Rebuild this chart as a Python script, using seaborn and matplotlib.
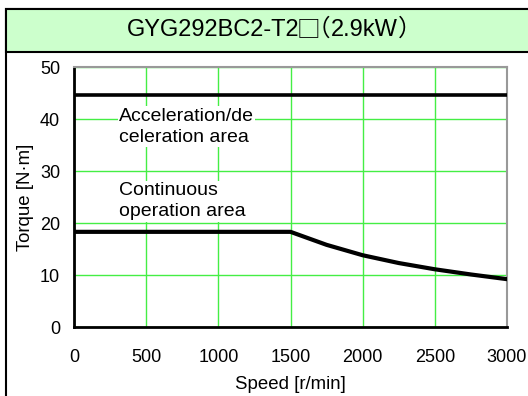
import matplotlib
matplotlib.use('Agg')
import matplotlib.pyplot as plt
import seaborn as sns
import pandas as pd
from matplotlib.patches import Rectangle

# values
speed_cont = [0, 1500, 1750, 2000, 2250, 2500, 2750, 3000]
torque_cont = [18.3, 18.3, 15.8, 13.8, 12.3, 11.1, 10.1, 9.2]
speed_acc = [0, 3000]
torque_acc = [44.6, 44.6]
x_ticks = [0, 500, 1000, 1500, 2000, 2500, 3000]
y_ticks = [0, 10, 20, 30, 40, 50]
title_parts = ['GYG292BC2-T2', '□', '（', '2.9kW', '）']
acc_label = 'Acceleration/de\nceleration area'
cont_label = 'Continuous\noperation area'

sns.set_theme(style='white')
plt.rcParams['font.family'] = ['Liberation Sans', 'Noto Sans CJK JP', 'DejaVu Sans']
plt.rcParams['text.color'] = 'black'
plt.rcParams['axes.labelcolor'] = 'black'

W, H = 528, 396
fig = plt.figure(figsize=(W / 100, H / 100), dpi=100)

# outer frame and title band (pixel coords -> figure fraction)
def px(x, y):
    return x / W, 1 - y / H

fig.patches.append(Rectangle(px(6, 400), (W + 10 - 6) / W, (400 - 9) / H,
                             transform=fig.transFigure, fill=False,
                             edgecolor='black', linewidth=1.5, zorder=0))
fig.patches.append(Rectangle(px(6, 52), (W + 10 - 6) / W, (52 - 9) / H,
                             transform=fig.transFigure, facecolor='#ccffcc',
                             edgecolor='black', linewidth=1.5, zorder=0))

# title in pieces so the square and full-width brackets use the CJK font
# (left/right trims tighten the empty space in the full-width glyph boxes)
trims = {'□': (3, 3), '（': (10, 0), '）': (0, 10)}
renderer = fig.canvas.get_renderer()
title_texts = []
for part in title_parts:
    fam = ['Noto Sans CJK JP'] if part in trims else ['Liberation Sans']
    t = fig.text(0, 1 - 36 / H, part, ha='left', va='baseline', fontsize=17, family=fam)
    title_texts.append(t)
widths = [t.get_window_extent(renderer).width for t in title_texts]
total = sum(w - sum(trims.get(p, (0, 0))) for p, w in zip(title_parts, widths))
x = 269 - total / 2
for p, t, w in zip(title_parts, title_texts, widths):
    lt, rt = trims.get(p, (0, 0))
    t.set_x((x - lt) / W)
    x += w - lt - rt

ax = fig.add_axes([74 / W, 1 - 327 / H, (507 - 74) / W, (327 - 67) / H])

df_cont = pd.DataFrame({'speed': speed_cont, 'torque': torque_cont})
df_acc = pd.DataFrame({'speed': speed_acc, 'torque': torque_acc})
sns.lineplot(data=df_acc, x='speed', y='torque', ax=ax, color='black', linewidth=2.6, zorder=4)
sns.lineplot(data=df_cont, x='speed', y='torque', ax=ax, color='black', linewidth=3.0, zorder=4)

ax.set_xlim(0, 3000)
ax.set_ylim(0, 50)
ax.set_xticks(x_ticks)
ax.set_yticks(y_ticks)
ax.grid(True, color='#44ee44', linewidth=1.0)
ax.set_axisbelow(True)
ax.tick_params(direction='in', length=5, width=1.5, colors='black', labelsize=13)
ax.tick_params(axis='x', pad=16)
ax.tick_params(axis='y', pad=10)
for s in ['left', 'bottom']:
    ax.spines[s].set_color('black')
    ax.spines[s].set_linewidth(2)
for s in ['top', 'right']:
    ax.spines[s].set_color('#999999')
    ax.spines[s].set_linewidth(1.5)

ax.set_xlabel('Speed [r/min]', fontsize=13.4, labelpad=7)
ax.set_ylabel('Torque [N·m]', fontsize=13.4, labelpad=4)

box = dict(facecolor='white', edgecolor='none', pad=1)
ax.text(312, 38.5, acc_label, fontsize=14, ha='left', va='center', linespacing=1.35, bbox=box, zorder=3)
ax.text(312, 24.2, cont_label, fontsize=14, ha='left', va='center', linespacing=1.35, bbox=box, zorder=3)

fig.savefig('out.png', dpi=100)
